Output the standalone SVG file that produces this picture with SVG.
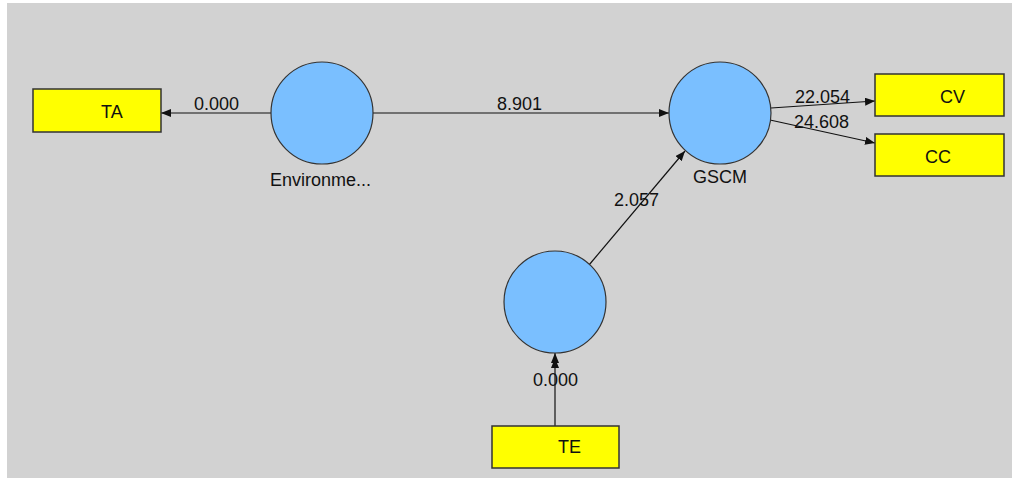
<svg xmlns="http://www.w3.org/2000/svg" width="1016" height="479" viewBox="0 0 1016 479">
  <style>
    .lv { fill: #7ABFFF; stroke: #333; stroke-width: 1.2; }
    .mv { fill: #FFFF00; stroke: #333; stroke-width: 1.5; }
    .edge { stroke: #111; stroke-width: 1.2; fill: none; marker-end: url(#arr); }
    text { font-family: "Liberation Sans", Arial, sans-serif; font-size: 18px; fill: #111; }
  </style>
  <defs>
    <marker id="arr" viewBox="0 0 10 8" refX="10" refY="4" markerWidth="10" markerHeight="8" markerUnits="userSpaceOnUse" orient="auto">
      <path d="M0,0 L10,4 L0,8 Z" fill="#111"/>
    </marker>
  </defs>
  <rect x="0" y="0" width="1016" height="479" fill="#fff"/>
  <rect x="7" y="3" width="1005" height="475" fill="#D2D2D2"/>

  <g id="connectors">
    <line class="edge" x1="271" y1="113" x2="161" y2="113"/>
    <text x="194" y="110">0.000</text>
    <line class="edge" x1="373" y1="113" x2="669" y2="113"/>
    <text x="497" y="110">8.901</text>
    <line class="edge" x1="771" y1="108" x2="875" y2="101"/>
    <text x="795" y="103">22.054</text>
    <line class="edge" x1="770" y1="120" x2="875" y2="143"/>
    <text x="794" y="128">24.608</text>
    <line class="edge" x1="589" y1="265" x2="685" y2="151"/>
    <text x="614" y="206">2.057</text>
    <line class="edge" x1="555" y1="426" x2="555" y2="353"/>
    <path d="M551,368 L555,358 L559,368 Z" fill="#111"/>
    <text x="533" y="386">0.000</text>
  </g>

  <g id="node-environment">
    <circle class="lv" cx="322" cy="113" r="51"/>
    <text x="270" y="186">Environme...</text>
  </g>
  <g id="node-gscm">
    <circle class="lv" cx="720" cy="113" r="51"/>
    <text x="693" y="183">GSCM</text>
  </g>
  <g id="node-te-latent">
    <circle class="lv" cx="555" cy="302" r="51"/>
  </g>
  <g id="node-ta">
    <rect class="mv" x="33" y="89" width="128" height="43"/>
    <text x="101" y="118">TA</text>
  </g>
  <g id="node-cv">
    <rect class="mv" x="875" y="74" width="129" height="42"/>
    <text x="940" y="103">CV</text>
  </g>
  <g id="node-cc">
    <rect class="mv" x="875" y="134" width="129" height="42"/>
    <text x="925" y="163">CC</text>
  </g>
  <g id="node-te">
    <rect class="mv" x="492" y="426" width="127" height="42"/>
    <text x="558" y="453">TE</text>
  </g>
</svg>
